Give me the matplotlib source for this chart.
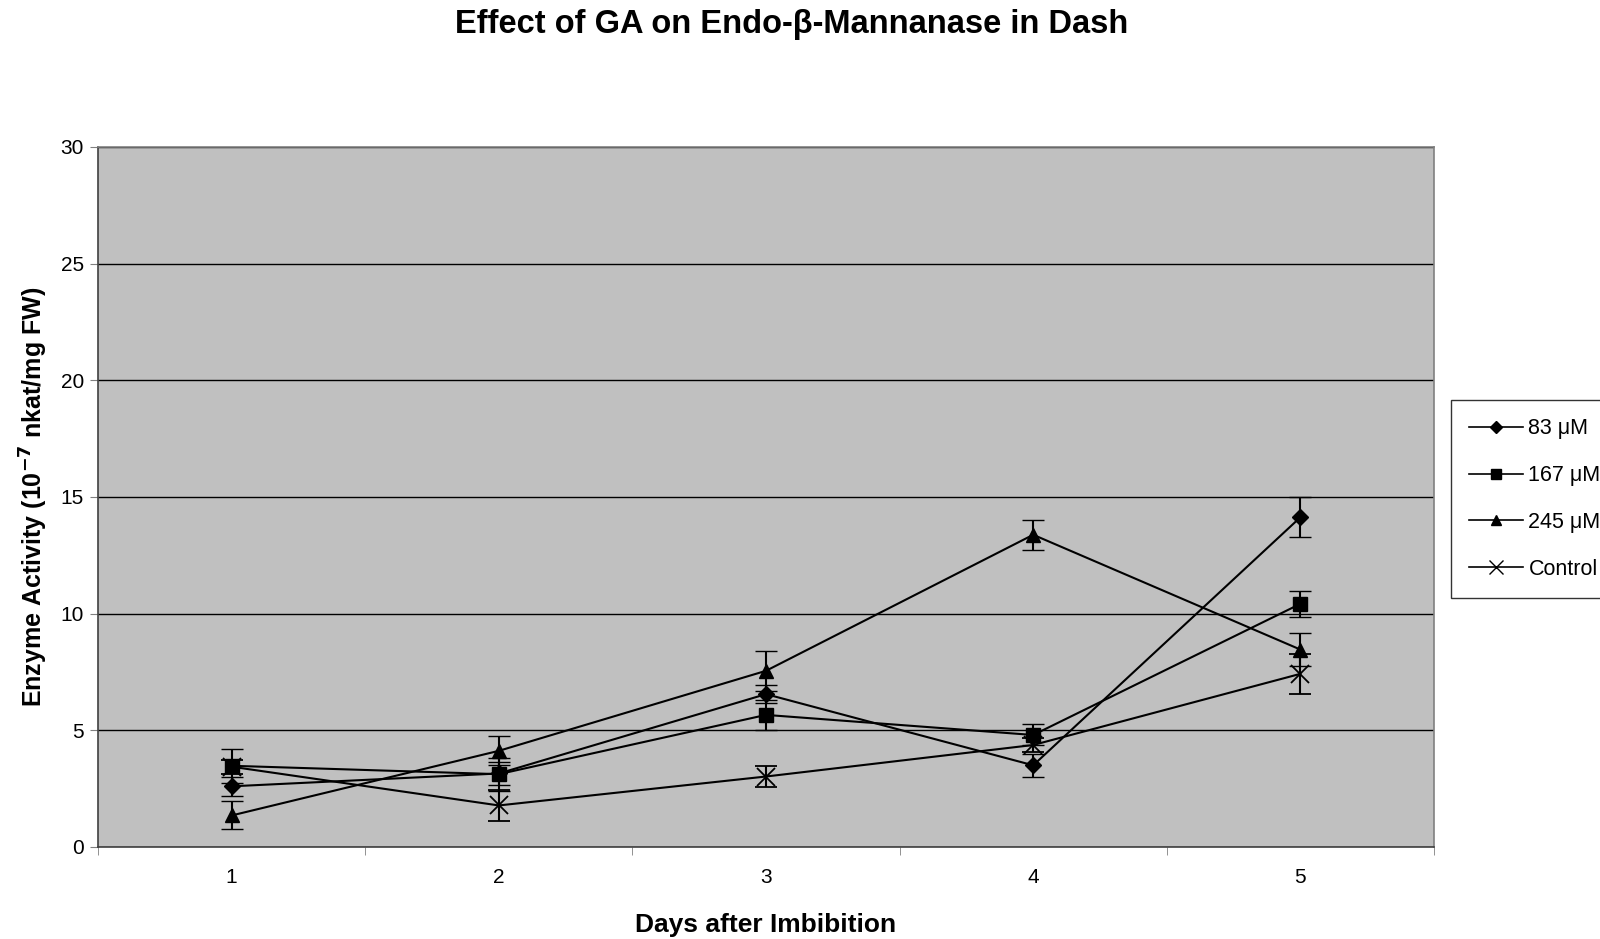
import numpy as np
import matplotlib
matplotlib.use('Agg')
import matplotlib.pyplot as plt
from matplotlib.lines import Line2D

plt.rcParams['font.family'] = ['Liberation Sans', 'DejaVu Sans']

days = [1, 2, 3, 4, 5]

# mean activity and error for each GA concentration
ga83 = [2.6, 3.15, 6.55, 3.5, 14.13]
ga83_err = [0.4, 0.5, 0.4, 0.5, 0.86]
ga167 = [3.48, 3.12, 5.66, 4.8, 10.42]
ga167_err = [0.72, 0.7, 0.66, 0.45, 0.55]
ga245 = [1.35, 4.12, 7.55, 13.38, 8.46]
ga245_err = [0.6, 0.62, 0.85, 0.64, 0.7]
control = [3.44, 1.78, 3.02, 4.37, 7.42]
control_err = [0.3, 0.65, 0.45, 0.3, 0.85]

series = [
    ('83 μM', ga83, ga83_err, 'D', 8),
    ('167 μM', ga167, ga167_err, 's', 10),
    ('245 μM', ga245, ga245_err, '^', 10),
    ('Control', control, control_err, 'x', 13),
]

fig = plt.figure(figsize=(16, 9.39), dpi=100)
ax = fig.add_axes([0.06125, 0.098, 0.835, 0.7455])
ax.set_facecolor('#C0C0C0')

handles = []
for label, vals, err, mk, ms in series:
    ax.errorbar(days, vals, yerr=err, color='black', lw=1.5, marker=mk,
                markersize=ms, mew=1.3 if mk == 'x' else 1, capsize=8,
                capthick=1.5, elinewidth=1.5, zorder=3)
    handles.append(Line2D([], [], color='black', lw=1.2, marker=mk,
                          markersize=ms * 0.75, mew=1, label=label))

ax.set_xlim(0.5, 5.5)
ax.set_ylim(0, 30)
ax.set_yticks(np.arange(0, 31, 5))
ax.set_xticks(days)
ax.set_xticks(np.arange(0.5, 5.6, 1), minor=True)
ax.yaxis.grid(True, color='black', lw=1)
ax.set_axisbelow(True)
ax.tick_params(axis='x', which='major', length=0, labelsize=15, pad=15)
ax.tick_params(axis='x', which='minor', length=6, color='#808080')
ax.tick_params(axis='y', length=6, color='#808080', labelsize=15, pad=4)
for sp in ax.spines.values():
    sp.set_color('#808080')
    sp.set_linewidth(1.2)
ax.spines['left'].set_color('#404040')
ax.spines['bottom'].set_color('#404040')

ax.set_xlabel('Days after Imbibition', fontsize=19, fontweight='bold', labelpad=19)
ax.set_ylabel('Enzyme Activity (10$^{\\mathbf{-7}}$ nkat/mg FW)', fontsize=18,
              fontweight='bold', labelpad=8)
fig.text(0.495, 0.974, 'Effect of GA on Endo-β-Mannanase in Dash',
         ha='center', va='center', fontsize=23.5, fontweight='bold')

leg = fig.legend(handles=handles, loc='upper left',
                 bbox_to_anchor=(1451 / 1600, 1 - 400 / 939),
                 fontsize=15.5, frameon=True, fancybox=False, edgecolor='black',
                 handlelength=2.5, handletextpad=0.25, labelspacing=1.2,
                 borderpad=0.85, borderaxespad=0)
leg.get_frame().set_linewidth(1)

fig.savefig('out.png', dpi=100)
